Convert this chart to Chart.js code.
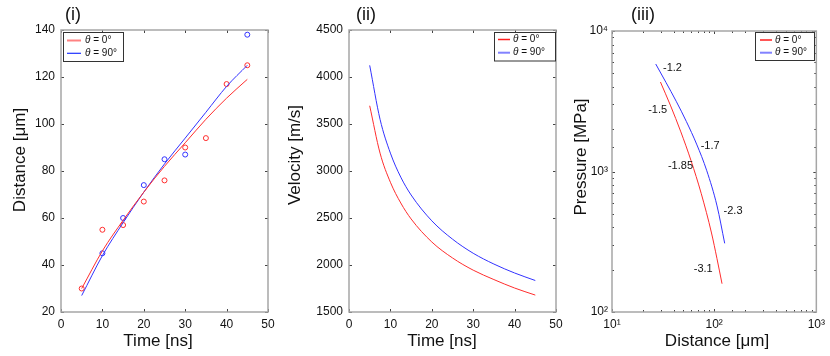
<!DOCTYPE html>
<html>
<head>
<meta charset="utf-8">
<script src="https://cdn.jsdelivr.net/npm/chart.js@4.4.0/dist/chart.umd.min.js"></script>
<style>
    html, body { margin: 0; padding: 0; background: #fff; }
    #wrap { position: relative; width: 830px; height: 356px; }
    canvas { position: absolute; left: 0; top: 0; }
</style>
</head>
<body>
<div id="wrap">
    <canvas id="c1" width="830" height="356"></canvas>
    <canvas id="c2" width="830" height="356"></canvas>
    <canvas id="c3" width="830" height="356"></canvas>
</div>
<script>

// DATA

// (i) distance vs time, measured points
const timeRed = [5, 10, 15, 20, 25, 30, 35, 40, 45];
const distRed = [30, 55, 57, 67, 76, 90, 94, 117, 125];
const timeBlue = [10, 15, 20, 25, 30, 45];
const distBlue = [45, 60, 74, 85, 87, 138];

// (i) fitted curves
const fitTime = [5, 10, 15, 20, 25, 30, 35, 40, 45];
const fitRed = [30, 46, 59, 71, 82, 92, 102, 111, 119];
const fitBlue = [27, 44, 58, 71, 83, 94, 105, 116, 125];

// (ii) velocity vs time
const velTime = [5, 7.5, 10, 12.5, 15, 20, 25, 30, 35, 40, 45];
const velRed = [3694, 3190, 2880, 2660, 2490, 2245, 2075, 1945, 1845, 1755, 1680];
const velBlue = [4124, 3550, 3190, 2935, 2745, 2470, 2275, 2125, 2010, 1915, 1835];

// (iii) pressure vs distance
const presDistRed = [29.8, 37.5, 47.2, 59.4, 74.8, 94.2, 106.4, 119.4];
const presRed = [4335, 2931, 1914, 1194, 695, 365, 241, 159];
const presDistBlue = [26.8, 33.7, 42.5, 53.5, 67.3, 84.7, 106.7, 126.8];
const presBlue = [5821, 4315, 3162, 2265, 1567, 1012, 569, 308];

// (iii) slope labels, anchored in data units
const slopeText = ['-1.2', '-1.5', '-1.7', '-1.85', '-2.3', '-3.1'];
const slopeAtX = [39.1, 28, 91.4, 46.8, 153, 78.2];
const slopeAtY = [5450, 2740, 1518, 1094, 524, 202];

// tick labels
const distTicks = [20, 40, 60, 80, 100, 120, 140];
const velTicks = [1500, 2000, 2500, 3000, 3500, 4000, 4500];
const timeTicks = [0, 10, 20, 30, 40, 50];
const seriesNames = ['0°', '90°'];



// STYLE

const FONT = '"Liberation Sans", Arial, sans-serif';
const RED = 'rgb(255,45,45)';
const BLUE = 'rgb(50,50,255)';
const SUP = { 1: '\u00b9', 2: '\u00b2', 3: '\u00b3', 4: '\u2074' };

function pts(xs, ys) {
    return xs.map((x, i) => ({ x: x, y: ys[i] }));
}

function isDecade(v) {
    const e = Math.log10(v);
    return Math.abs(e - Math.round(e)) < 1e-6;
}

function logLabel(v) {
    return isDecade(v) ? '10' + SUP[Math.round(Math.log10(v))] : '';
}



// PLUGIN: frame, inner ticks, titles, legend, notes

const decor = {
    id: 'decor',
    afterDraw(chart, args, o) {
        const ctx = chart.ctx;
        const a = chart.chartArea;
        const xs = chart.scales.x, ys = chart.scales.y;
        ctx.save();

        // inner ticks on all four sides
        ctx.strokeStyle = '#444';
        ctx.lineWidth = 1;
        ctx.beginPath();
        xs.ticks.forEach(t => {
            const len = (xs.type === 'logarithmic' && !isDecade(t.value)) ? 2 : 3;
            const p = Math.round(xs.getPixelForValue(t.value)) + 0.5;
            ctx.moveTo(p, a.bottom); ctx.lineTo(p, a.bottom - len);
            ctx.moveTo(p, a.top); ctx.lineTo(p, a.top + len);
        });
        ys.ticks.forEach(t => {
            const len = (ys.type === 'logarithmic' && !isDecade(t.value)) ? 2 : 3;
            const p = Math.round(ys.getPixelForValue(t.value)) + 0.5;
            ctx.moveTo(a.left, p); ctx.lineTo(a.left + len, p);
            ctx.moveTo(a.right, p); ctx.lineTo(a.right - len, p);
        });
        ctx.stroke();

        // frame
        ctx.strokeStyle = '#a6a6a6';
        ctx.lineWidth = 1.5;
        ctx.strokeRect(a.left, a.top, a.right - a.left, a.bottom - a.top);

        // panel label and axis titles
        ctx.fillStyle = '#111';
        ctx.textBaseline = 'middle';
        ctx.textAlign = 'left';
        ctx.font = '18px ' + FONT;
        ctx.fillText(o.label, o.labelX, 15);
        ctx.textAlign = 'center';
        ctx.font = '17px ' + FONT;
        ctx.fillText(o.xTitle, o.xTitleX, 341.5);
        ctx.save();
        ctx.translate(o.yTitleX, o.yTitleY);
        ctx.rotate(-Math.PI / 2);
        ctx.fillText(o.yTitle, 0, 0);
        ctx.restore();

        // slope notes
        if (o.notes) {
            ctx.font = '11px ' + FONT;
            slopeText.forEach((s, i) => {
                ctx.fillText(s, xs.getPixelForValue(slopeAtX[i]), ys.getPixelForValue(slopeAtY[i]));
            });
        }

        // legend
        const L = o.legend;
        ctx.fillStyle = '#fff';
        ctx.fillRect(L.x0, L.y0, L.x1 - L.x0, L.y1 - L.y0);
        ctx.strokeStyle = '#333';
        ctx.lineWidth = 1;
        ctx.strokeRect(L.x0 + 0.5, L.y0 + 0.5, L.x1 - L.x0, L.y1 - L.y0);
        seriesNames.forEach((name, i) => {
            const y = L.rows[i];
            ctx.strokeStyle = L.colors[i];
            ctx.lineWidth = L.widths[i];
            ctx.beginPath();
            ctx.moveTo(L.lineX0, y); ctx.lineTo(L.lineX1, y);
            ctx.stroke();
            ctx.fillStyle = '#111';
            ctx.textAlign = 'left';
            ctx.font = 'italic 10px ' + FONT;
            ctx.fillText('\u03b8', L.textX, y);
            const w = ctx.measureText('\u03b8').width;
            ctx.font = '10px ' + FONT;
            ctx.fillText(' = ' + name, L.textX + w, y);
        });

        ctx.restore();
    }
};



// OPTIONS

function axisTicks(extra) {
    return Object.assign({
        color: '#111',
        font: { family: FONT, size: 12 },
        autoSkip: false,
        maxRotation: 0,
        callback: v => String(v)
    }, extra);
}

function makeOptions(cfg) {
    return {
        responsive: false,
        animation: false,
        devicePixelRatio: 1,
        layout: { padding: cfg.padding },
        plugins: {
            legend: { display: false },
            tooltip: { enabled: false },
            decor: cfg.decor
        },
        scales: {
            x: Object.assign({
                grid: { display: false, drawTicks: false },
                border: { display: false },
                afterFit: s => { s.height = 44; }
            }, cfg.x),
            y: Object.assign({
                grid: { display: false, drawTicks: false },
                border: { display: false },
                afterFit: s => { s.width = cfg.yWidth; }
            }, cfg.y)
        }
    };
}

function lineSet(data, color) {
    return {
        data: data, showLine: true, borderColor: color, borderWidth: 1,
        pointRadius: 0, cubicInterpolationMode: 'monotone', fill: false
    };
}

function dotSet(data, color) {
    return {
        data: data, showLine: false, borderColor: color, borderWidth: 1,
        backgroundColor: 'rgba(0,0,0,0)', pointRadius: 2.5, pointStyle: 'circle'
    };
}



// CHART (i)

new Chart(document.getElementById('c1'), {
    type: 'scatter',
    plugins: [decor],
    data: {
        datasets: [
            lineSet(pts(fitTime, fitRed), RED),
            lineSet(pts(fitTime, fitBlue), BLUE),
            dotSet(pts(timeRed, distRed), RED),
            dotSet(pts(timeBlue, distBlue), BLUE)
        ]
    },
    options: makeOptions({
        padding: { left: 0, top: 30, right: 562, bottom: 0 },
        yWidth: 61,
        x: {
            type: 'linear', min: 0, max: 50,
            afterBuildTicks: s => { s.ticks = timeTicks.map(v => ({ value: v })); },
            ticks: axisTicks({ padding: 5 })
        },
        y: {
            type: 'linear', min: 20, max: 140,
            afterBuildTicks: s => { s.ticks = distTicks.map(v => ({ value: v })); },
            ticks: axisTicks({ padding: 6 })
        },
        decor: {
            label: '(i)', labelX: 65,
            xTitle: 'Time [ns]', xTitleX: 158,
            yTitle: 'Distance [\u03bcm]', yTitleX: 20, yTitleY: 160,
            legend: {
                x0: 63, y0: 32, x1: 123, y1: 61, rows: [40.5, 53.3],
                lineX0: 67, lineX1: 81, textX: 85,
                colors: ['rgb(255,130,130)', 'rgb(30,50,255)'], widths: [2, 1.2]
            }
        }
    })
});



// CHART (ii)

new Chart(document.getElementById('c2'), {
    type: 'scatter',
    plugins: [decor],
    data: {
        datasets: [
            lineSet(pts(velTime, velRed), RED),
            lineSet(pts(velTime, velBlue), BLUE)
        ]
    },
    options: makeOptions({
        padding: { left: 280, top: 30, right: 274, bottom: 0 },
        yWidth: 69,
        x: {
            type: 'linear', min: 0, max: 50,
            afterBuildTicks: s => { s.ticks = timeTicks.map(v => ({ value: v })); },
            ticks: axisTicks({ padding: 5 })
        },
        y: {
            type: 'linear', min: 1500, max: 4500,
            afterBuildTicks: s => { s.ticks = velTicks.map(v => ({ value: v })); },
            ticks: axisTicks({ padding: 6 })
        },
        decor: {
            label: '(ii)', labelX: 356,
            xTitle: 'Time [ns]', xTitleX: 442,
            yTitle: 'Velocity [m/s]', yTitleX: 295, yTitleY: 155,
            legend: {
                x0: 494, y0: 32, x1: 555, y1: 60.5, rows: [39.5, 52.7],
                lineX0: 498, lineX1: 510, textX: 513,
                colors: ['rgb(255,30,30)', 'rgb(130,130,255)'], widths: [1.5, 2]
            }
        }
    })
});



// CHART (iii)

new Chart(document.getElementById('c3'), {
    type: 'scatter',
    plugins: [decor],
    data: {
        datasets: [
            lineSet(pts(presDistRed, presRed), RED),
            lineSet(pts(presDistBlue, presBlue), BLUE)
        ]
    },
    options: makeOptions({
        padding: { left: 560, top: 31, right: 12.5, bottom: 0 },
        yWidth: 52,
        x: {
            type: 'logarithmic', min: 10, max: 1000,
            ticks: axisTicks({ padding: 5, callback: v => logLabel(v) })
        },
        y: {
            type: 'logarithmic', min: 100, max: 10000,
            ticks: axisTicks({ padding: 4, callback: v => logLabel(v) })
        },
        decor: {
            label: '(iii)', labelX: 631,
            xTitle: 'Distance [\u03bcm]', xTitleX: 717,
            yTitle: 'Pressure [MPa]', yTitleX: 581.7, yTitleY: 157,
            notes: true,
            legend: {
                x0: 755, y0: 32, x1: 814, y1: 60, rows: [40, 52.7],
                lineX0: 760, lineX1: 772, textX: 775,
                colors: ['rgb(255,30,30)', 'rgb(130,130,255)'], widths: [1.5, 2]
            }
        }
    })
});

</script>
</body>
</html>
